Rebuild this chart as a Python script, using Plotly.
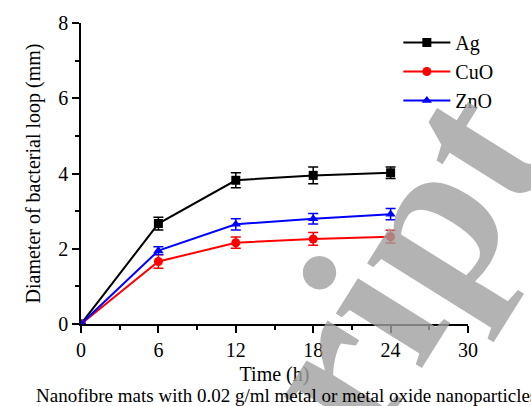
import plotly.graph_objects as go

time_h = [0, 6, 12, 18, 24]
ag = [0, 2.67, 3.82, 3.95, 4.02]
ag_err = [0, 0.17, 0.2, 0.22, 0.15]
cuo = [0, 1.66, 2.16, 2.26, 2.32]
cuo_err = [0, 0.18, 0.15, 0.17, 0.17]
zno = [0, 1.95, 2.65, 2.8, 2.92]
zno_err = [0, 0.1, 0.15, 0.14, 0.15]

series = [("Ag", ag, ag_err, "black", "square"),
          ("CuO", cuo, cuo_err, "#ff0000", "circle"),
          ("ZnO", zno, zno_err, "#0000ff", "triangle-up")]

font = "Liberation Serif, Times New Roman, serif"
fig = go.Figure()
for name, y, e, c, sym in series:
    fig.add_trace(go.Scatter(
        x=time_h, y=y, name=name, mode="lines+markers", cliponaxis=True,
        line=dict(color=c, width=2),
        marker=dict(color=c, symbol=sym, size=9),
        error_y=dict(type="data", array=e, color=c, thickness=1.5, width=5),
    ))

axis_common = dict(showline=True, linecolor="black", linewidth=1.5, ticks="outside",
                   ticklen=7, tickwidth=1.5, tickcolor="black", showgrid=False,
                   zeroline=False, tickfont=dict(family=font, size=20, color="black"),
                   minor=dict(ticks="outside", ticklen=4, tickwidth=1.5, tickcolor="black"))
fig.update_xaxes(range=[0, 30], tick0=0, dtick=6, minor_dtick=3,
                 title=dict(text="Time (h)", font=dict(family=font, size=20, color="black"), standoff=7),
                 **axis_common)
fig.update_yaxes(range=[0, 8], tick0=0, dtick=2, minor_dtick=1,
                 title=dict(text="Diameter of bacterial loop (mm)", font=dict(family=font, size=20, color="black"), standoff=12),
                 **axis_common)

fig.update_layout(
    width=531, height=406, margin=dict(l=81, r=63, t=19, b=82),
    plot_bgcolor="white", paper_bgcolor="white",
    legend=dict(x=0.82, y=1.0, xanchor="left", yanchor="top", font=dict(family=font, size=20, color="black"),
                bgcolor="rgba(0,0,0,0)", itemwidth=47, tracegroupgap=0),
    showlegend=True,
)
# watermark (drawn first so the caption sits on top)
fig.add_annotation(text="<b>ript</b>", xref="paper", yref="paper", x=0.82, y=0.2, xanchor="center", yanchor="middle",
                   showarrow=False, textangle=-58,
                   font=dict(family=font, size=222, color="rgba(160,160,160,0.8)"))
fig.add_annotation(text="Nanofibre mats with 0.02 g/ml metal or metal oxide nanoparticles",
                   xref="paper", yref="paper", x=0.53, y=-0.236, xanchor="center", yanchor="middle",
                   showarrow=False, font=dict(family=font, size=19, color="black"))
fig.write_html("out.html")
